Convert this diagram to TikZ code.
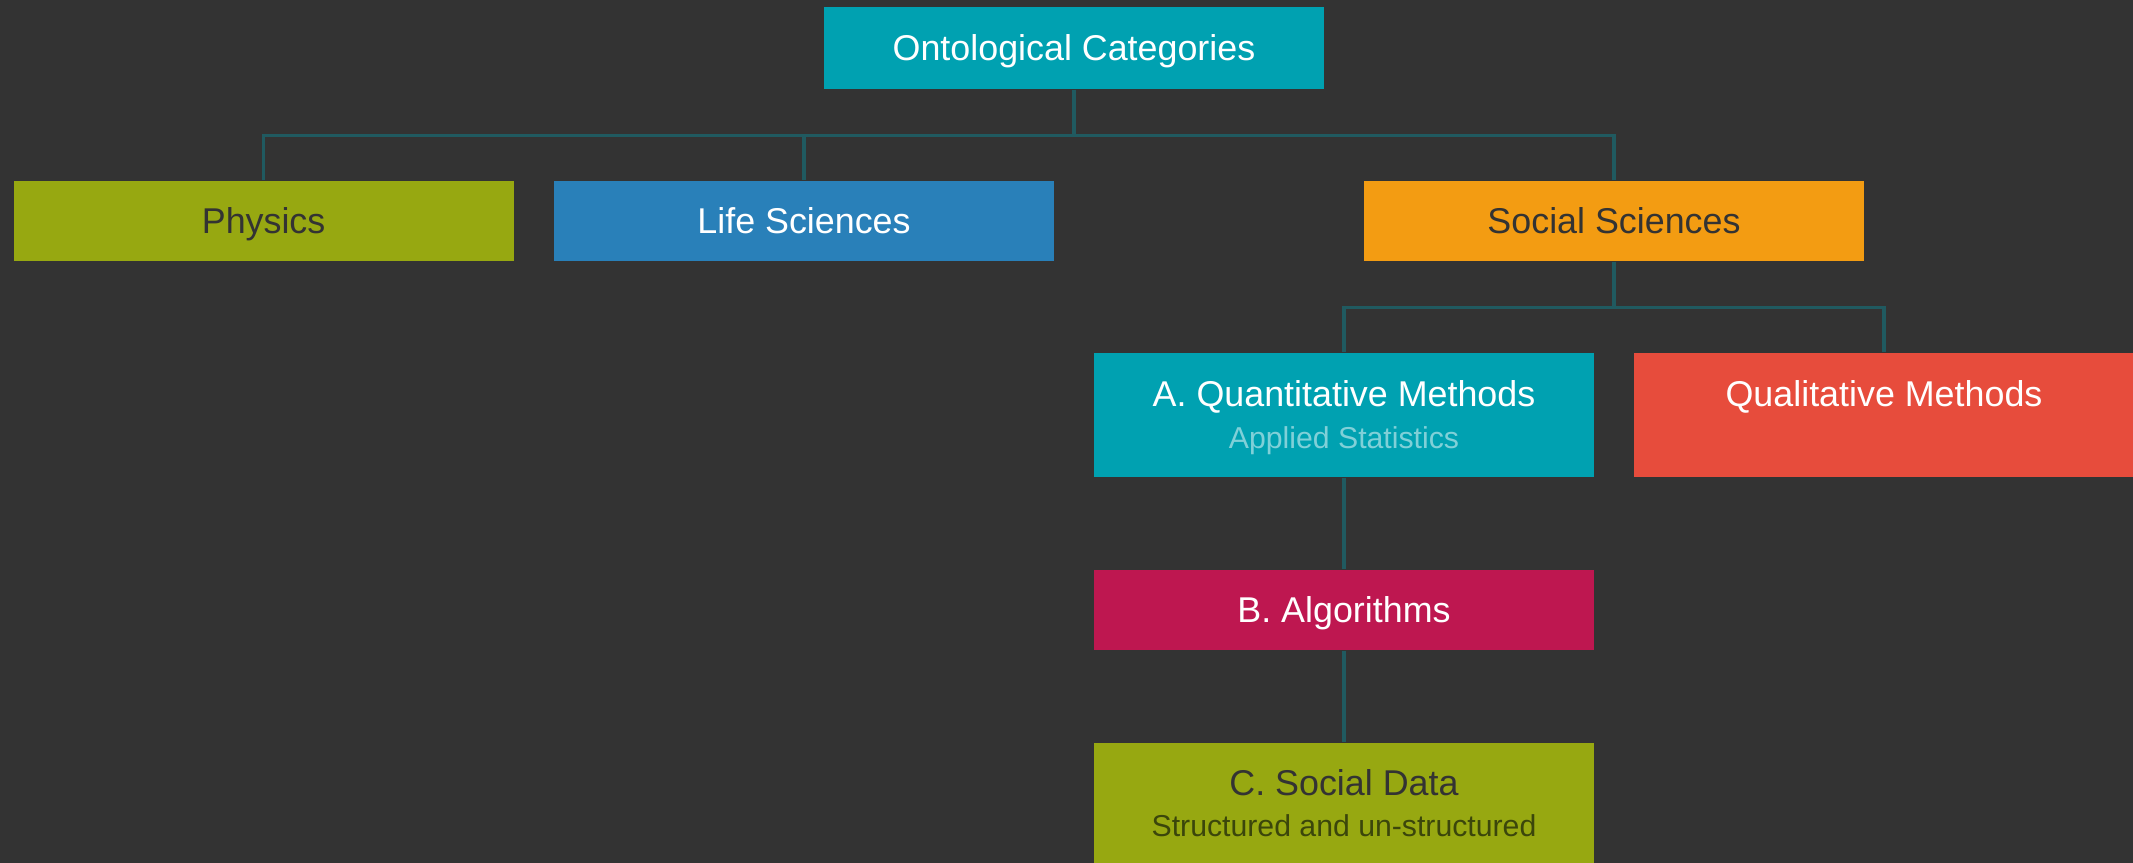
\documentclass[tikz,border=0pt]{standalone}
\usepackage{fontspec}
\setmainfont{Liberation Sans}
\usetikzlibrary{positioning}

\definecolor{bgdark}{HTML}{333333}
\definecolor{teal}{HTML}{00A1B1}
\definecolor{olive}{HTML}{97A811}
\definecolor{lifeblue}{HTML}{2980B9}
\definecolor{orangey}{HTML}{F39C12}
\definecolor{redish}{HTML}{E74C3C}
\definecolor{crimson}{HTML}{BE1750}
\definecolor{linkcol}{HTML}{205A60}
\definecolor{darktxt}{HTML}{333333}
\definecolor{subteal}{HTML}{80D0D8}
\definecolor{subolive}{HTML}{3B460B}

\begin{document}
\begin{tikzpicture}[
        box/.style={rectangle, inner sep=0pt, minimum width=5cm, minimum height=0.8cm,
            font=\fontsize{10.2}{12}\selectfont, text height=7.3pt, text depth=0pt},
        tallbox/.style={box, minimum height=1.24cm},
        lbl/.style={anchor=base, inner sep=0pt, font=\fontsize{10.2}{12}\selectfont},
        sublbl/.style={anchor=base, inner sep=0pt, font=\fontsize{8.6}{10}\selectfont},
        link/.style={draw=linkcol, line width=1pt}
    ]

        % Canvas
        \useasboundingbox (0, 0) rectangle (21.33, -8.62);
        \fill[bgdark] (-0.2, 0.2) rectangle (21.53, -8.82);
        \clip (-0.2, 0.2) rectangle (21.33, -8.62);

        % Root
        \node[box, fill=teal, text=white, minimum height=0.82cm] (root) at (10.74, -0.48) {Ontological Categories};

        % First level
        \node[box, fill=olive, text=darktxt] (phys) at (2.636, -2.21) {Physics};
        \node[box, fill=lifeblue, text=white] (life) at (8.04, -2.21) {Life Sciences};
        \node[box, fill=orangey, text=darktxt] (soc) at (16.14, -2.21) {Social Sciences};

        % Links root -> first level
        \draw[link] (root.south) -- ++(0, -0.46) -| (phys.north);
        \draw[link] (root.south) -- ++(0, -0.46) -| (life.north);
        \draw[link] (root.south) -- ++(0, -0.46) -| (soc.north);

        % Social sciences branch
        \node[tallbox, fill=teal] (quant) at (13.44, -4.15) {};
        \node[lbl, text=white] (quantlbl) at ([yshift=-0.54cm]quant.north) {A. Quantitative Methods};
        \node[sublbl, text=subteal] (quantsub) at ([yshift=-0.96cm]quant.north) {Applied Statistics};

        \node[tallbox, fill=redish] (qual) at (18.84, -4.15) {};
        \node[lbl, text=white] (quallbl) at ([yshift=-0.54cm]qual.north) {Qualitative Methods};

        \draw[link] (soc.south) -- ++(0, -0.46) -| (quant.north);
        \draw[link] (soc.south) -- ++(0, -0.46) -| (qual.north);

        % Algorithms
        \node[box, fill=crimson, text=white] (algo) at (13.44, -6.10) {B. Algorithms};
        \draw[link] (quant.south) -- (algo.north);

        % Social data (cut at the bottom edge)
        \node[tallbox, fill=olive] (sdata) at (13.44, -8.05) {};
        \node[lbl, text=darktxt] (sdatalbl) at ([yshift=-0.53cm]sdata.north) {C. Social Data};
        \node[sublbl, text=subolive] (sdatasub) at ([yshift=-0.94cm]sdata.north) {Structured and un-structured};
        \draw[link] (algo.south) -- (sdata.north);

    \end{tikzpicture}
\end{document}
